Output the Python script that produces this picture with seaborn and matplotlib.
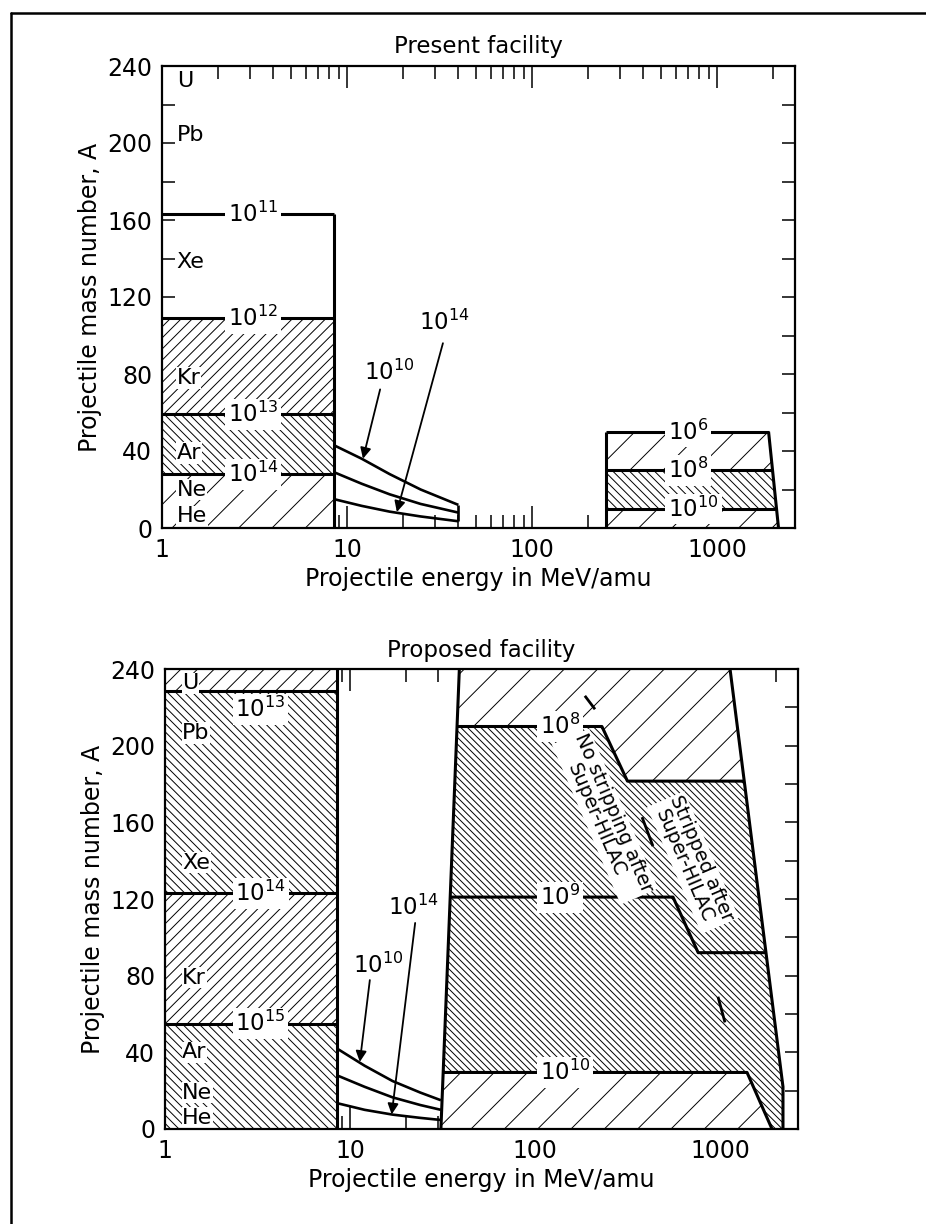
import numpy as np
import matplotlib
matplotlib.use('Agg')
import matplotlib.pyplot as plt
from matplotlib.lines import Line2D
from matplotlib.ticker import MultipleLocator, LogLocator, NullFormatter
import seaborn as sns

# ---------------- data: present facility ----------------
present_block_E = 8.5
present_levels_A = [163, 109, 59, 28]
present_levels_lbl = [r'$10^{11}$', r'$10^{12}$', r'$10^{13}$', r'$10^{14}$']
present_curve_E = [8.5, 12, 17, 25, 40]
present_curve_top = [43, 36, 28, 20, 12]
present_curve_mid = [29, 23, 17.5, 12.5, 8]
present_curve_low = [15, 11.5, 8.5, 6, 3.5]
present_hi_left_E = 250
present_hi_edge_E = [1900, 2150]
present_hi_edge_A = [50, 0]
present_hi_levels_A = [50, 30, 10]
present_hi_lbl = [r'$10^{6}$', r'$10^{8}$', r'$10^{10}$']

# ---------------- data: proposed facility ----------------
proposed_block_E = 8.5
proposed_levels_A = [228.5, 123, 55]
proposed_levels_lbl = [r'$10^{13}$', r'$10^{14}$', r'$10^{15}$']
proposed_curve_E = [8.5, 12, 17, 24, 31]
proposed_curve_top = [42, 33, 25, 19, 15]
proposed_curve_mid = [28, 22, 16.5, 12.5, 10]
proposed_curve_low = [13.5, 10, 7.5, 5.8, 4.7]
prop_left_E = [31, 39]
prop_left_A = [0, 240]
prop_right_E = [1133, 2190, 2190]
prop_right_A = [240, 22, 0]
step_1e8_E = [230, 316]
step_1e8_A = [210, 181.5]
step_1e9_E = [557, 762]
step_1e9_A = [121, 92]
step_1e10_E = [1400, 1910]
step_1e10_A = [29.5, 0]
prop_hi_lbl = [r'$10^{8}$', r'$10^{9}$', r'$10^{10}$']
marks_E = [(186, 211), (379, 434), (975, 1064)]
marks_A = [(226, 219), (162.7, 147.6), (69, 55.6)]

elements = ['U', 'Pb', 'Xe', 'Kr', 'Ar', 'Ne', 'He']
present_elem_A = [232, 204, 138, 78, 39, 20, 6]
proposed_elem_A = [232.6, 206.6, 139, 79, 40, 19, 6]

sns.set_style('ticks')
plt.rcParams['font.family'] = ['DejaVu Sans']
plt.rcParams['hatch.linewidth'] = 0.7
plt.rcParams['mathtext.default'] = 'regular'
for k in ['text.color', 'axes.labelcolor', 'xtick.color', 'ytick.color', 'axes.edgecolor']:
    plt.rcParams[k] = 'black'

fig = plt.figure(figsize=(9.26, 12.24), dpi=100)
ax1 = fig.add_axes([162 / 926, 1 - 528 / 1224, 633 / 926, 462 / 1224])
ax2 = fig.add_axes([165 / 926, 1 - 1129 / 1224, 633 / 926, 460 / 1224])

WHITE = dict(facecolor='white', edgecolor='none', pad=2)
LW = 2.2
COARSE, MED, FINE_B = '/', '///', '\\\\\\\\'


def edge_at(A, Es, As):
    As = np.asarray(As, float)
    Es = np.asarray(Es, float)
    o = np.argsort(As)
    return 10 ** np.interp(A, As[o], np.log10(Es[o]))


def line(ax, x, y, lw=LW):
    sns.lineplot(x=list(x), y=list(y), ax=ax, color='black', lw=lw,
                 sort=False, estimator=None, solid_capstyle='butt')


def hatch_poly(ax, xs, ys, h):
    ax.fill(xs, ys, facecolor='white', edgecolor='black', lw=0, hatch=h, zorder=1)


def style_axes(ax, title):
    ax.set_xscale('log')
    ax.set_xlim(1, 2640)
    ax.set_ylim(0, 240)
    ax.set_xticks([1, 10, 100, 1000])
    ax.set_xticklabels(['1', '10', '100', '1000'])
    ax.xaxis.set_minor_locator(LogLocator(base=10, subs=np.arange(2, 10)))
    ax.xaxis.set_minor_formatter(NullFormatter())
    ax.set_yticks(np.arange(0, 241, 40))
    ax.yaxis.set_minor_locator(MultipleLocator(20))
    ax.tick_params(which='both', direction='in', top=True, right=True,
                   width=1.1, labelsize=17, color='black')
    ax.tick_params(axis='x', which='major', length=16, pad=7)
    ax.tick_params(axis='x', which='minor', length=9.5)
    ax.tick_params(axis='y', which='both', length=9.5, pad=7)
    for s in ax.spines.values():
        s.set_linewidth(1.6)
        s.set_color('black')
        s.set_zorder(5)
    ax.set_title(title, fontsize=16.5, pad=9)
    ax.set_xlabel('Projectile energy in MeV/amu', fontsize=17, labelpad=4)
    ax.set_ylabel('Projectile mass number, A', fontsize=17, labelpad=4)


def elem_labels(ax, As, E0):
    for name, a in zip(elements, As):
        ax.text(E0, a, name, fontsize=16, ha='left', va='center', zorder=4,
                bbox=dict(facecolor='white', edgecolor='none', pad=0.5))


def curves(ax, E, cs):
    for c in cs:
        line(ax, E, c, lw=1.9)


def arrow_label(ax, txt, xy_text, xy_start, xy_tip):
    ax.text(*xy_text, txt, fontsize=16.5, ha='center', va='center', zorder=4)
    ax.annotate('', xy=xy_tip, xytext=xy_start,
                arrowprops=dict(arrowstyle='-|>', color='black', lw=1.3,
                                mutation_scale=16, shrinkA=0, shrinkB=0), zorder=4)


# ======================= Present facility =======================
ax = ax1
E0 = present_block_E
bands = [(0, present_levels_A[3], COARSE), (present_levels_A[3], present_levels_A[2], FINE_B),
         (present_levels_A[2], present_levels_A[1], MED)]
for lo, hi, h in bands:
    ax.fill_between([1, E0], lo, hi, facecolor='white', edgecolor='black', lw=0, hatch=h, zorder=1)
for a in present_levels_A:
    line(ax, [1, E0], [a, a])
line(ax, [E0, E0], [0, present_levels_A[0]])
for a, lbl in zip(present_levels_A, present_levels_lbl):
    ax.text(2.27, a - 4, lbl, fontsize=16.5, ha='left', va='baseline', zorder=4, bbox=WHITE)

curves(ax, present_curve_E, [present_curve_top, present_curve_mid, present_curve_low])
line(ax, [present_curve_E[-1]] * 2, [present_curve_top[-1], present_curve_low[-1]], lw=1.9)
arrow_label(ax, r'$10^{10}$', (17, 81), (15.1, 72), (12.2, 36))
arrow_label(ax, r'$10^{14}$', (33.8, 107), (33, 96), (18.6, 8.3))

# high-energy block
L = present_hi_left_E
hb = [(0, 10, COARSE), (10, 30, FINE_B), (30, 50, COARSE)]
for lo, hi, h in hb:
    xs = [L, L, edge_at(hi, present_hi_edge_E, present_hi_edge_A), edge_at(lo, present_hi_edge_E, present_hi_edge_A)]
    hatch_poly(ax, xs, [lo, hi, hi, lo], h)
for a in present_hi_levels_A:
    line(ax, [L, edge_at(a, present_hi_edge_E, present_hi_edge_A)], [a, a])
line(ax, [L, L], [0, present_hi_levels_A[0]])
line(ax, present_hi_edge_E, present_hi_edge_A)
for a, lbl in zip(present_hi_levels_A, present_hi_lbl):
    ax.text(545, a - 4, lbl, fontsize=16.5, ha='left', va='baseline', zorder=4, bbox=WHITE)

elem_labels(ax, present_elem_A, 1.2)
style_axes(ax, 'Present facility')

# ======================= Proposed facility =======================
ax = ax2
E0 = proposed_block_E
pl = proposed_levels_A
bands = [(0, pl[2], FINE_B), (pl[2], pl[1], MED), (pl[1], pl[0], FINE_B), (pl[0], 240, '//')]
for lo, hi, h in bands:
    ax.fill_between([1, E0], lo, hi, facecolor='white', edgecolor='black', lw=0, hatch=h, zorder=1)
for a in pl:
    line(ax, [1, E0], [a, a])
line(ax, [E0, E0], [0, 240])
lbl_base = [215, pl[1] - 4, pl[2] - 4]
for b, lbl in zip(lbl_base, proposed_levels_lbl):
    ax.text(2.4, b, lbl, fontsize=16.5, ha='left', va='baseline', zorder=4, bbox=WHITE)

curves(ax, proposed_curve_E, [proposed_curve_top, proposed_curve_mid, proposed_curve_low])
arrow_label(ax, r'$10^{10}$', (14.2, 85.5), (12.8, 77.7), (11.3, 35))
arrow_label(ax, r'$10^{14}$', (21.9, 115.7), (22.5, 107.5), (16.8, 7.6))

# high-energy region
eL = lambda a: edge_at(a, prop_left_E, prop_left_A)
eR = lambda a: edge_at(a, prop_right_E, prop_right_A)
a8_hi, a8_lo = step_1e8_A
a9_hi, a9_lo = step_1e9_A
a10 = step_1e10_A[0]
top_x = [eL(a8_hi), eL(240), eR(240), eR(a8_lo), step_1e8_E[1], step_1e8_E[0]]
top_y = [a8_hi, 240, 240, a8_lo, a8_lo, a8_hi]
hatch_poly(ax, top_x, top_y, COARSE)
mid_x = [eL(a10), eL(a8_hi), step_1e8_E[0], step_1e8_E[1], eR(a8_lo),
         prop_right_E[1], prop_right_E[2], step_1e10_E[1], step_1e10_E[0]]
mid_y = [a10, a8_hi, a8_hi, a8_lo, a8_lo, prop_right_A[1], prop_right_A[2], 0, a10]
hatch_poly(ax, mid_x, mid_y, '\\\\\\\\\\')
bot_x = [prop_left_E[0], eL(a10), step_1e10_E[0], step_1e10_E[1]]
bot_y = [0, a10, a10, 0]
hatch_poly(ax, bot_x, bot_y, COARSE)

line(ax, prop_left_E, prop_left_A)
line(ax, prop_right_E, prop_right_A)
line(ax, [eL(a8_hi)] + step_1e8_E + [eR(a8_lo)], [a8_hi, a8_hi, a8_lo, a8_lo])
line(ax, [eL(a9_hi)] + step_1e9_E + [eR(a9_lo)], [a9_hi, a9_hi, a9_lo, a9_lo])
line(ax, [eL(a10)] + step_1e10_E, [a10, a10, 0])
for a, lbl in zip([a8_hi, a9_hi, a10], prop_hi_lbl):
    ax.text(106, a - 4, lbl, fontsize=16.5, ha='left', va='baseline', zorder=4, bbox=WHITE)
for me, ma in zip(marks_E, marks_A):
    line(ax, me, ma, lw=2.0)

for txt, e, a in [('No stripping after\nSuper-HILAC', 239, 163),
                  ('Stripped after\nSuper-HILAC', 714, 139)]:
    ax.text(e, a, txt, fontsize=14, rotation=-66.7, ha='center', va='center',
            multialignment='center', rotation_mode='anchor', zorder=4, linespacing=1.0,
            bbox=dict(facecolor='white', edgecolor='none', pad=1))

elem_labels(ax, proposed_elem_A, 1.24)
style_axes(ax, 'Proposed facility')

# outer frame (top and left edges visible)
fig.add_artist(Line2D([11 / 926, 1.0], [1 - 13 / 1224] * 2, transform=fig.transFigure,
                      color='black', lw=1.8))
fig.add_artist(Line2D([11 / 926] * 2, [0.0, 1 - 13 / 1224], transform=fig.transFigure,
                      color='black', lw=1.8))

fig.savefig('out.png', dpi=100)
